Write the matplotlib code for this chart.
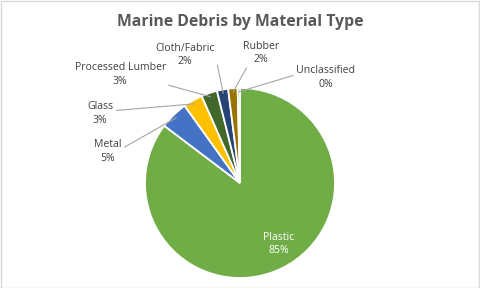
import matplotlib
matplotlib.use("Agg")
import matplotlib.pyplot as plt
import numpy as np
from matplotlib.patches import Rectangle

# ---- data ----
categories = ["Plastic", "Metal", "Glass", "Processed Lumber", "Cloth/Fabric", "Rubber", "Unclassified"]
values = [85.3, 4.8, 3.3, 2.7, 1.9, 1.6, 0.4]
pct_labels = ["85%", "5%", "3%", "3%", "2%", "2%", "0%"]
title = "Marine Debris by Material Type"

# ---- style / layout ----
colors = ["#70AD47", "#4472C4", "#FFC000", "#43682B", "#264478", "#997300", "#8CC168"]
# label centre positions in pie-radius units (layout only)
label_pos = [(0.41, -0.64), (-1.39, 0.33), (-1.47, 0.73), (-1.26, 1.14),
             (-0.58, 1.35), (0.22, 1.37), (0.90, 1.11)]
label_rel = [None, (1.0, 0.62), (1.0, 0.62), (0.9, 0.2), (1.0, 0.62), (0.2, 0.15), (0.0, 0.62)]

plt.rcParams['font.family'] = ['Open Sans', 'DejaVu Sans']

W, H = 480, 288
fig = plt.figure(figsize=(W / 100, H / 100), dpi=100)
fig.patch.set_facecolor("white")
fig.patches.append(Rectangle((0.5 / W, 0.5 / H), 1 - 1.5 / W, 1 - 1.5 / H, transform=fig.transFigure,
                             fill=False, edgecolor="#D9D9D9", linewidth=1))

cx, cy, r = 240, 183, 95
ax = fig.add_axes([(cx - r) / W, (H - cy - r) / H, 2 * r / W, 2 * r / H])
wedges, _ = ax.pie(values, colors=colors, startangle=90, counterclock=False, radius=1,
                   wedgeprops=dict(edgecolor="white", linewidth=1.3))
ax.set_xlim(-1, 1)
ax.set_ylim(-1, 1)
ax.set_aspect("equal")
ax.axis("off")

for i, (w, cat, pl) in enumerate(zip(wedges, categories, pct_labels)):
    ang = np.deg2rad((w.theta1 + w.theta2) / 2)
    tx, ty = label_pos[i]
    if i == 0:
        ax.text(tx, ty, f"{cat}\n{pl}", ha="center", va="center", color="white",
                fontsize=7.6, linespacing=1.3)
    else:
        px, py = 0.96 * np.cos(ang), 0.96 * np.sin(ang)
        ax.annotate(f"{cat}\n{pl}", xy=(px, py), xytext=(tx, ty), ha="center", va="center",
                    color="#404040", fontsize=7.6, linespacing=1.3, annotation_clip=False,
                    arrowprops=dict(arrowstyle="-", color="#A6A6A6", lw=0.8,
                                    shrinkA=0, shrinkB=0, relpos=label_rel[i]))

fig.text(0.5, 1 - 22 / H, title, ha="center", va="center", fontsize=11.3, fontweight="bold",
         color="#595959")

fig.savefig("out.png", dpi=100)
